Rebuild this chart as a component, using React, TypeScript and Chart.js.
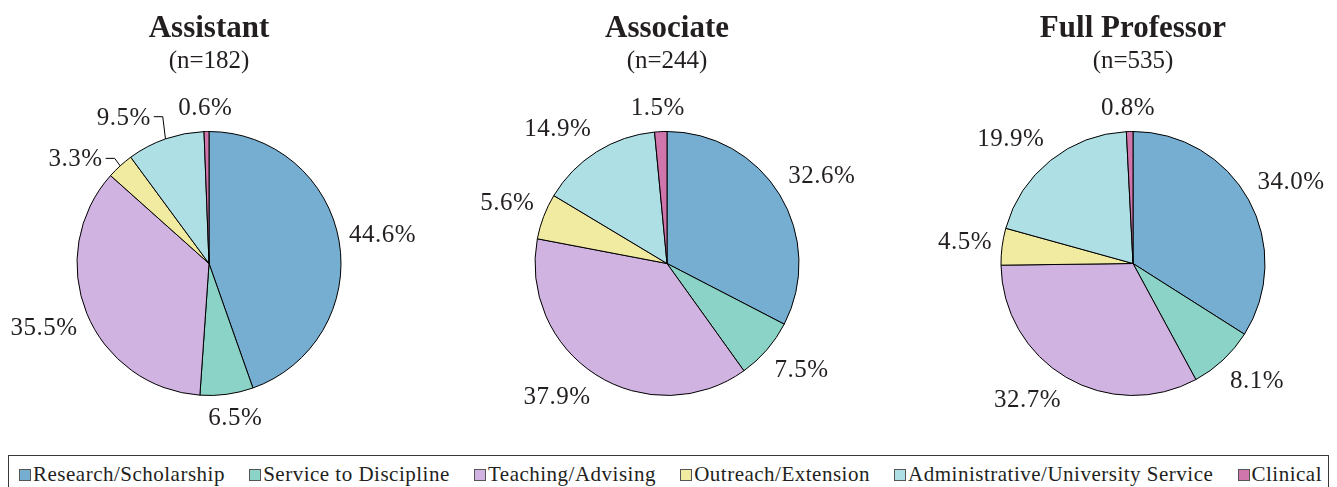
import React, { useEffect, useRef } from "react";
import { Chart, registerables } from "chart.js";

Chart.register(...registerables);

// ---------- data ----------
const categories = [
  "Research/Scholarship",
  "Service to Discipline",
  "Teaching/Advising",
  "Outreach/Extension",
  "Administrative/University Service",
  "Clinical",
];
const groupNames = ["Assistant", "Associate", "Full Professor"];
const groupCounts = [182, 244, 535];
const assistantValues = [44.6, 6.5, 35.5, 3.3, 9.5, 0.6];
const associateValues = [32.6, 7.5, 37.9, 5.6, 14.9, 1.5];
const fullProfessorValues = [34.0, 8.1, 32.7, 4.5, 19.9, 0.8];
const groupValues = [assistantValues, associateValues, fullProfessorValues];

// ---------- style ----------
const sliceColors = ["#76AED2", "#8AD3C6", "#D1B3E2", "#F0EBA0", "#AEDFE5", "#D176AC"];
const TEXT = "#231f20";
const SERIF = "'Liberation Serif', 'Times New Roman', serif";
const CANVAS_W = 440;
const CANVAS_H = 455;
const PIE_R = 132;
const pieCenters = [209, 667, 1133];
// leader-line label nudges (label anchor relative to arc edge), per chart
const leaderNudges: Record<number, Record<number, [number, number]>> = {
  0: { 3: [-14.5, -7.5], 4: [-11.7, -22.2] },
};

const clamp1 = (v: number) => Math.max(-1, Math.min(1, v));

const pieLabelPlugin = {
  id: "pieLabels",
  afterDatasetsDraw(chart: any, _args: any, opts: any) {
    const ctx = chart.ctx as CanvasRenderingContext2D;
    const meta = chart.getDatasetMeta(0);
    const data = chart.data.datasets[0].data as number[];
    const nudges = opts.nudges || {};
    ctx.save();
    ctx.fillStyle = TEXT;
    ctx.strokeStyle = "#000";
    ctx.lineWidth = 1;
    ctx.font = `25px ${SERIF}`;
    (ctx as any).letterSpacing = "0.5px";
    meta.data.forEach((arc: any, i: number) => {
      const p = arc.getProps(["x", "y", "startAngle", "endAngle", "outerRadius"], true);
      const mid = (p.startAngle + p.endAngle) / 2;
      const ux = Math.cos(mid);
      const uy = Math.sin(mid);
      const text = data[i].toFixed(1) + "%";
      const w = ctx.measureText(text).width;
      const hw = w / 2;
      const hh = uy < 0 ? 15 : 13;
      if (nudges[i]) {
        const [dx, dy] = nudges[i];
        const px = p.x + ux * p.outerRadius;
        const py = p.y + uy * p.outerRadius;
        const lx = px + dx;
        const ly = py + dy;
        ctx.beginPath();
        ctx.moveTo(lx, ly);
        ctx.lineTo(lx + 9, ly);
        ctx.lineTo(px, py);
        ctx.stroke();
        ctx.textAlign = "right";
        ctx.textBaseline = "alphabetic";
        ctx.fillText(text, lx - 3, ly + 8);
      } else {
        const ax = p.x + ux * (p.outerRadius + 10);
        const ay = p.y + uy * (p.outerRadius + 10);
        const cx = ax + hw * clamp1(2 * ux);
        const cy = ay + hh * clamp1(2 * uy);
        ctx.textAlign = "center";
        ctx.textBaseline = "alphabetic";
        ctx.fillText(text, cx, cy + 8);
      }
    });
    ctx.restore();
  },
};

const titlePlugin = {
  id: "twoLineTitle",
  afterDraw(chart: any, _args: any, opts: any) {
    const ctx = chart.ctx as CanvasRenderingContext2D;
    const cx = (chart.chartArea.left + chart.chartArea.right) / 2;
    ctx.save();
    ctx.fillStyle = TEXT;
    ctx.textAlign = "center";
    ctx.textBaseline = "alphabetic";
    ctx.font = `bold 31px ${SERIF}`;
    ctx.fillText(opts.title, cx, 36.5);
    ctx.font = `25px ${SERIF}`;
    ctx.fillText(opts.subtitle, cx, 67.5);
    ctx.restore();
  },
};

function PieChart({ index }: { index: number }) {
  const ref = useRef<HTMLCanvasElement | null>(null);
  useEffect(() => {
    if (!ref.current) return;
    const chart = new Chart(ref.current, {
      type: "pie",
      data: {
        labels: categories,
        datasets: [
          {
            data: groupValues[index],
            backgroundColor: sliceColors,
            borderColor: "#000000",
            borderWidth: 1,
          },
        ],
      },
      options: {
        responsive: false,
        animation: false,
        radius: PIE_R,
        layout: { padding: { left: 60, right: 60, top: 100, bottom: 28 } },
        plugins: {
          legend: { display: false },
          tooltip: { enabled: false },
          title: { display: false },
          pieLabels: { nudges: leaderNudges[index] || {} },
          twoLineTitle: {
            title: groupNames[index],
            subtitle: `(n=${groupCounts[index]})`,
          },
        } as any,
      } as any,
      plugins: [pieLabelPlugin, titlePlugin],
    });
    return () => chart.destroy();
  }, [index]);
  return (
    <canvas
      ref={ref}
      width={CANVAS_W}
      height={CANVAS_H}
      style={{
        position: "absolute",
        left: pieCenters[index] - CANVAS_W / 2,
        top: 0,
        width: CANVAS_W,
        height: CANVAS_H,
      }}
    />
  );
}

export default function App() {
  return (
    <div
      style={{
        position: "absolute",
        left: 0,
        top: 0,
        width: 1337,
        height: 487,
        overflow: "hidden",
        background: "#fff",
      }}
    >
      {groupNames.map((_, i) => (
        <PieChart key={i} index={i} />
      ))}
      <div
        style={{
          position: "absolute",
          left: 8,
          top: 455,
          width: 1321,
          height: 40,
          border: "1px solid #3a3a3a",
          boxSizing: "border-box",
          display: "flex",
          alignItems: "flex-start",
          justifyContent: "space-between",
          padding: "8px 6px 0 10px",
          fontFamily: SERIF,
          fontSize: 21,
          letterSpacing: "0.5px",
          color: TEXT,
          lineHeight: "20px",
          whiteSpace: "nowrap",
        }}
      >
        {categories.map((c, i) => (
          <div key={c} style={{ display: "flex", alignItems: "flex-start" }}>
            <span
              style={{
                display: "inline-block",
                boxSizing: "border-box",
                width: 12,
                height: 12,
                background: sliceColors[i],
                border: "1px solid #555",
                marginRight: 2,
                marginTop: 5,
              }}
            />
            <span>{c}</span>
          </div>
        ))}
      </div>
    </div>
  );
}
